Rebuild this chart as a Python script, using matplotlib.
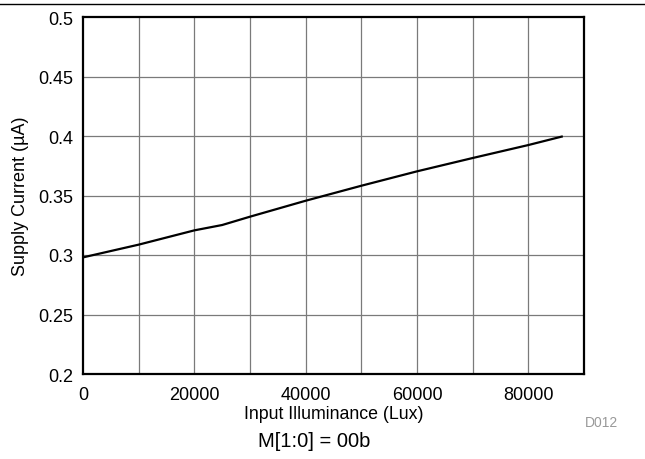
import matplotlib
matplotlib.use("Agg")
import matplotlib.pyplot as plt
from matplotlib.lines import Line2D

plt.rcParams['font.family'] = ['Liberation Sans', 'DejaVu Sans']

# data
lux = [0, 10000, 20000, 25000, 30000, 40000, 50000, 60000, 70000, 80000, 86000]
current = [0.298, 0.3087, 0.3207, 0.3252, 0.3322, 0.3456, 0.3582, 0.3703, 0.3815, 0.3924, 0.3995]

x_ticks = [0, 20000, 40000, 60000, 80000]
x_grid = list(range(0, 90001, 10000))
y_ticks = [0.2, 0.25, 0.3, 0.35, 0.4, 0.45, 0.5]
y_labels = ["0.2", "0.25", "0.3", "0.35", "0.4", "0.45", "0.5"]

fig = plt.figure(figsize=(6.45, 4.6), dpi=100)
ax = fig.add_axes([83 / 645, 1 - 375 / 460, 501 / 645, 357 / 460])

for gx in x_grid[1:-1]:
    ax.axvline(gx, color="#7a7a7a", lw=0.9, zorder=1)
for gy in y_ticks[1:-1]:
    ax.axhline(gy, color="#7a7a7a", lw=0.9, zorder=1)

ax.plot(lux, current, color="black", lw=1.6, zorder=3)

ax.set_xlim(0, 90000)
ax.set_ylim(0.2, 0.5)
ax.set_xticks(x_ticks)
ax.set_xticklabels([str(t) for t in x_ticks])
ax.set_yticks(y_ticks)
ax.set_yticklabels(y_labels)
ax.tick_params(length=0, labelsize=13, pad=7)
ax.tick_params(axis="x", pad=9)
for s in ax.spines.values():
    s.set_linewidth(1.6)

ax.set_xlabel("Input Illuminance (Lux)", fontsize=12.8, labelpad=1)
ax.set_ylabel("Supply Current (\u00b5A)", fontsize=13, labelpad=7)

fig.text(314 / 645, 1 - 442 / 460, "M[1:0] = 00b", fontsize=14.5, ha="center", va="center")
fig.text(602 / 645, 1 - 423 / 460, "D012", fontsize=10, color="#999999", ha="center", va="center")
fig.add_artist(Line2D([0, 1], [1 - 5 / 460, 1 - 5 / 460], color="black", lw=1.0, transform=fig.transFigure))

fig.savefig("out.png", dpi=100)
